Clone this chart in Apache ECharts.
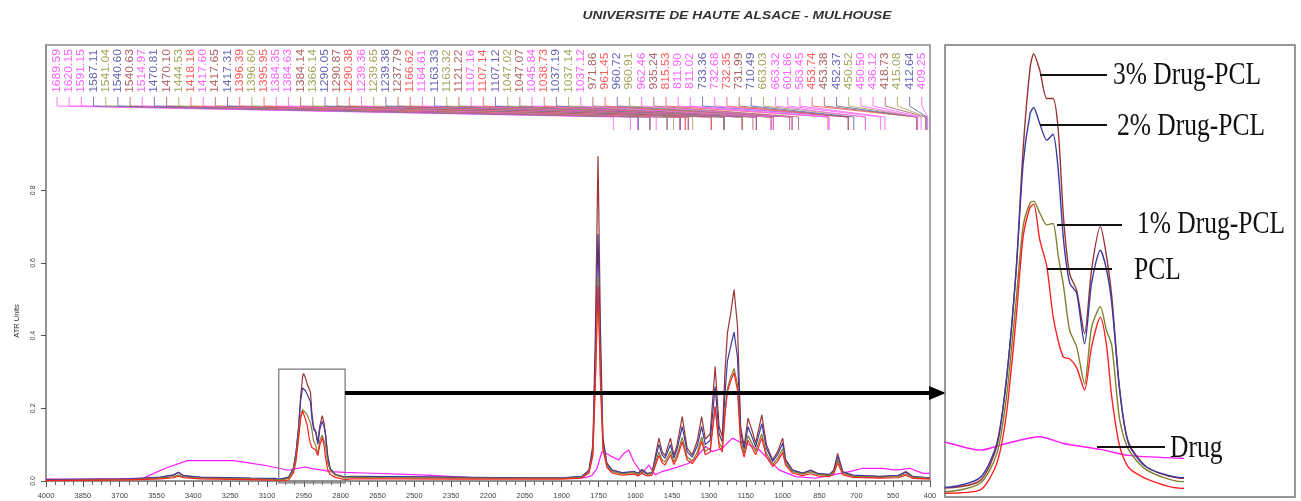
<!DOCTYPE html>
<html><head><meta charset="utf-8">
<script src="https://cdn.jsdelivr.net/npm/echarts@6/dist/echarts.min.js"></script>
<style>html,body{margin:0;padding:0;background:#fff}#c{width:1301px;height:501px}</style>
</head><body><div id="c"></div>
<script>
// ---- data ----
const titleText = 'UNIVERSITE DE HAUTE ALSACE - MULHOUSE';
const yAxisTitle = 'ATR Units';
const seriesNames = ['Drug', '3% Drug-PCL', '2% Drug-PCL', '1% Drug-PCL', 'PCL'];
const yTickValues = [0, 0.2, 0.4, 0.6, 0.8];

const wavenumbers = [4000,3657,3534,3480,3461,3440,3371,3166,3064,
3052,3012,2993,2982,2971,2963,2955,2951,2944,2936,2929,2923,2917,2910,2902,2893,2885,2875,2868,2862,2853,2843,2822,2782,
2758,2553,2349,2063,1899,1818,1789,1773,1763,1752,1742,1732,1716,1695,1654,1605,1589,1573,1552,1532,1504,1491,1479,1457,1443,1430,1409,1389,1368,1348,1330,1315,1295,1275,1259,1246,1235,1225,1212,1198,1184,1171,1157,1141,1125,1110,1085,1066,1041,1021,1000,988,960,919,886,857,810,792,776,755,714,605,530,498,469,401];

const drugPcl3 = [0.003,0.005,0.010,0.016,0.024,0.014,0.010,0.007,0.006,
0.004,0.009,0.032,0.077,0.150,0.232,0.287,0.296,0.285,0.266,0.266,0.245,0.186,0.148,0.137,0.108,0.151,0.180,0.160,0.133,0.070,0.035,0.018,0.0105,
0.012,0.011,0.010,0.008,0.008,0.012,0.030,0.100,0.400,0.894,0.420,0.120,0.050,0.030,0.022,0.026,0.020,0.032,0.020,0.022,
0.118,0.080,0.070,0.118,0.070,0.100,0.177,0.090,0.072,0.110,0.177,0.115,0.130,0.315,0.150,0.122,0.300,0.407,0.460,0.527,
0.426,0.150,0.095,0.173,0.140,0.104,0.182,0.100,0.058,0.080,0.118,0.060,0.030,0.021,0.030,0.020,0.017,0.030,0.076,0.025,
0.015,0.012,0.015,0.026,0.012,0.008];

const drugPcl2 = [0.004,0.006,0.011,0.017,0.024,0.015,0.011,0.008,0.007,
0.0045,0.011,0.034,0.077,0.150,0.222,0.256,0.260,0.249,0.238,0.242,0.218,0.171,0.142,0.135,0.101,0.142,0.164,0.151,0.128,0.070,0.034,0.018,0.011,
0.013,0.012,0.011,0.009,0.009,0.013,0.028,0.085,0.330,0.680,0.350,0.110,0.048,0.030,0.023,0.026,0.021,0.030,0.021,0.023,
0.100,0.072,0.063,0.100,0.063,0.088,0.150,0.080,0.066,0.096,0.150,0.100,0.112,0.260,0.130,0.108,0.240,0.330,0.370,0.410,
0.340,0.135,0.088,0.150,0.122,0.094,0.158,0.090,0.054,0.072,0.104,0.056,0.030,0.022,0.029,0.021,0.018,0.028,0.068,0.025,
0.016,0.013,0.015,0.024,0.012,0.009];

const drugPcl1 = [0.002,0.004,0.008,0.012,0.017,0.011,0.008,0.006,0.004,
0.0016,0.0072,0.027,0.065,0.130,0.180,0.196,0.197,0.189,0.181,0.182,0.160,0.140,0.110,0.099,0.074,0.112,0.126,0.110,0.100,0.050,0.030,0.016,0.0083,
0.010,0.009,0.008,0.007,0.007,0.010,0.024,0.075,0.280,0.560,0.290,0.095,0.042,0.026,0.020,0.023,0.018,0.026,0.018,0.020,
0.080,0.058,0.052,0.082,0.052,0.072,0.120,0.066,0.055,0.078,0.122,0.082,0.090,0.205,0.105,0.090,0.190,0.255,0.285,0.310,
0.265,0.115,0.076,0.125,0.104,0.082,0.130,0.076,0.046,0.062,0.088,0.050,0.026,0.019,0.025,0.018,0.015,0.024,0.058,0.021,
0.013,0.010,0.012,0.020,0.010,0.007];

const pcl = [0.001,0.003,0.006,0.009,0.013,0.009,0.006,0.004,0.002,
0.0005,0.0027,0.0206,0.054,0.118,0.173,0.193,0.195,0.171,0.153,0.120,0.103,0.092,0.091,0.085,0.070,0.099,0.119,0.100,0.065,0.032,0.018,0.010,0.0038,
0.006,0.006,0.005,0.005,0.005,0.008,0.022,0.070,0.260,0.535,0.270,0.088,0.038,0.022,0.016,0.019,0.014,0.021,0.014,0.016,
0.070,0.050,0.044,0.072,0.045,0.064,0.108,0.058,0.048,0.068,0.110,0.072,0.080,0.205,0.095,0.080,0.180,0.245,0.275,0.298,
0.250,0.100,0.066,0.112,0.092,0.072,0.118,0.066,0.040,0.054,0.078,0.044,0.022,0.015,0.020,0.014,0.012,0.020,0.050,0.017,
0.010,0.008,0.009,0.016,0.007,0.005];

const drugWavenumbers = [4000,3700,3604,3514,3424,3236,3174,3100,3052,3012,2982,2944,2917,2875,2843,2782,2700,2450,2250,2000,1850,1800,1777,1756,1736,1716,1695,1668,1647,1627,1606,1573,1545,1519,1491,1438,1382,1355,1314,1287,1246,1205,1177,1137,1096,1055,1014,946,866,796,728,674,592,539,483,428,401];
const drugValues = [0.005,0.006,0.008,0.035,0.056,0.056,0.050,0.042,0.035,0.0295,0.034,0.0385,0.034,0.030,0.026,0.024,0.022,0.016,0.009,0.007,0.007,0.010,0.015,0.035,0.081,0.075,0.067,0.058,0.076,0.085,0.053,0.021,0.044,0.017,0.026,0.036,0.049,0.063,0.095,0.081,0.090,0.118,0.108,0.099,0.086,0.058,0.030,0.012,0.0075,0.017,0.026,0.035,0.035,0.030,0.035,0.021,0.021];

const peakLabels = ["1689.59","1620.15","1591.15","1587.11","1541.04","1540.60","1540.63","1514.97","1470.81","1470.10",
"1444.53","1418.18","1417.60","1417.65","1417.31","1396.39","1396.60","1395.95","1384.35","1384.63",
"1384.14","1366.14","1290.05","1290.87","1290.38","1239.36","1239.65","1239.38","1237.79","1166.62",
"1164.61","1163.33","1163.32","1121.22","1107.16","1107.14","1107.12","1047.02","1047.07","1045.84",
"1038.73","1037.19","1037.14","1037.12","971.86","961.45","960.72","960.91","962.46","935.24",
"815.53","811.90","811.02","733.36","732.68","732.35","731.99","710.49","663.03","663.32",
"601.86","583.45","453.74","453.38","452.37","450.52","450.50","436.12","418.73","415.08",
"412.64","409.25"];
const peakLabelSeries = "mmmbobrmbroRmrbRoRmmrobrRmobrRmbormRbormRbomrRbomrRmmbmRrbommmRrbommrob";

const insetLabels = ['3% Drug-PCL', '2% Drug-PCL', '1% Drug-PCL', 'PCL', 'Drug'];

// ---- styles ----
const colors = { 'Drug': '#ff1aff', '3% Drug-PCL': '#9a3434', '2% Drug-PCL': '#3a3aa2', '1% Drug-PCL': '#80802e', 'PCL': '#ff2222' };
const labelColors = { m: '#ff60ff', b: '#6464b4', o: '#a4a45a', r: '#ac6262', R: '#ff5a5a' };

const chart = echarts.init(document.getElementById('c'), null, { renderer: 'canvas' });

function pairs(xs, ys) { return xs.map((x, i) => [x, ys[i]]); }
const seriesData = {
  'Drug': pairs(drugWavenumbers, drugValues),
  '3% Drug-PCL': pairs(wavenumbers, drugPcl3),
  '2% Drug-PCL': pairs(wavenumbers, drugPcl2),
  '1% Drug-PCL': pairs(wavenumbers, drugPcl1),
  'PCL': pairs(wavenumbers, pcl)
};

const series = [];
seriesNames.forEach(n => {
  series.push({ name: n, type: 'line', xAxisIndex: 0, yAxisIndex: 0, data: seriesData[n], showSymbol: false, symbol: 'none',
    lineStyle: { color: colors[n], width: 1.2 }, itemStyle: { color: colors[n] }, clip: true, silent: true });
  series.push({ name: n + ' (zoom)', type: 'line', xAxisIndex: 1, yAxisIndex: 1, data: seriesData[n], showSymbol: false, symbol: 'none',
    smooth: 0.25, lineStyle: { color: colors[n], width: 1.4 }, itemStyle: { color: colors[n] }, clip: true, silent: true });
});

const font = '"Liberation Sans", Arial, sans-serif';

chart.setOption({
  animation: false,
  backgroundColor: '#fff',
  grid: [
    { left: 46, right: 371, top: 45, bottom: 20, show: true, borderColor: '#8a8a8a', borderWidth: 1.5, backgroundColor: 'transparent' },
    { left: 945, top: 48, width: 237, height: 446, show: false }
  ],
  xAxis: [
    { type: 'value', gridIndex: 0, min: 400, max: 4000, interval: 150, inverse: true,
      axisLine: { show: true, lineStyle: { color: '#8a8a8a', width: 1.5 } },
      axisTick: { show: true, length: 6, lineStyle: { color: '#555' } },
      minorTick: { show: true, splitNumber: 4, length: 4, lineStyle: { color: '#666' } },
      splitLine: { show: false },
      axisLabel: { fontSize: 7.5, color: '#444', margin: 11, fontFamily: font, showMinLabel: true, showMaxLabel: true,
        formatter: v => String(Math.round(v)) } },
    { type: 'value', gridIndex: 1, min: 2782, max: 3052, inverse: true, show: false, splitLine: { show: false } }
  ],
  yAxis: [
    { type: 'value', gridIndex: 0, min: 0, max: 1.2, interval: 0.2,
      axisLine: { show: true, lineStyle: { color: '#8a8a8a', width: 1.5 } },
      axisTick: { show: true, length: 5, lineStyle: { color: '#555' }, customValues: yTickValues },
      splitLine: { show: false },
      axisLabel: { fontSize: 7, color: '#444', rotate: 90, margin: 9, fontFamily: font, customValues: yTickValues,
        formatter: v => v.toFixed(1) } },
    { type: 'value', gridIndex: 1, min: 0, max: 0.3, show: false, splitLine: { show: false } }
  ],
  series: series
});

function addGraphics() {
  const g = [];
  // title
  g.push({ type: 'text', x: 737, y: 16, scaleX: 1.2, silent: true,
    style: { text: titleText, font: 'italic bold 11.5px ' + font, fill: '#333', align: 'center', verticalAlign: 'middle', textAlign: 'center', textVerticalAlign: 'middle' } });
  // y axis title
  g.push({ type: 'text', x: 17, y: 321, rotation: Math.PI / 2, silent: true,
    style: { text: yAxisTitle, font: '7.5px ' + font, fill: '#333', align: 'center', verticalAlign: 'middle', textAlign: 'center', textVerticalAlign: 'middle' } });

  // peak labels with leader lines
  peakLabels.forEach((lab, i) => {
    const key = peakLabelSeries[i] || 'm';
    const col = labelColors[key];
    const xi = 57 + i * 12.18;
    const xt = chart.convertToPixel({ xAxisIndex: 0, yAxisIndex: 0 }, [parseFloat(lab), 0])[0];
    g.push({ type: 'polyline', silent: true, z: 5,
      shape: { points: [[xi, 97], [xi, 106], [xt, 117], [xt, 130]] },
      style: { stroke: col, lineWidth: 1, fill: null, opacity: 0.85 } });
    g.push({ type: 'text', x: xi, y: 71, rotation: Math.PI / 2, scaleX: 1.1, silent: true, z: 6,
      style: { text: lab, font: '11px ' + font, fill: col, align: 'center', verticalAlign: 'middle', textAlign: 'center', textVerticalAlign: 'middle' } });
  });

  // zoom box in main plot
  const p1 = chart.convertToPixel({ xAxisIndex: 0, yAxisIndex: 0 }, [3052, 0.308]);
  const p2 = chart.convertToPixel({ xAxisIndex: 0, yAxisIndex: 0 }, [2782, -0.005]);
  g.push({ type: 'rect', silent: true, z: 10,
    shape: { x: p1[0], y: p1[1], width: p2[0] - p1[0], height: p2[1] - p1[1] },
    style: { stroke: '#777', lineWidth: 1.2, fill: null } });
  // arrow
  g.push({ type: 'line', silent: true, z: 10, shape: { x1: p2[0], y1: 393, x2: 933, y2: 393 }, style: { stroke: '#000', lineWidth: 4 } });
  g.push({ type: 'polygon', silent: true, z: 10, shape: { points: [[929, 386], [946, 393], [929, 400]] }, style: { fill: '#000' } });

  // inset frame
  g.push({ type: 'rect', silent: true, z: 10, shape: { x: 945, y: 45, width: 350, height: 452 }, style: { stroke: '#777', lineWidth: 1.5, fill: null } });

  // inset labels and leaders
  const insetPos = [
    { tx: 1113, ty: 76, l: [1040, 1107, 75] },
    { tx: 1117, ty: 127, l: [1040, 1107, 125] },
    { tx: 1137, ty: 225, l: [1057, 1122, 225] },
    { tx: 1134, ty: 271, l: [1047, 1112, 269] },
    { tx: 1170, ty: 449, l: [1097, 1165, 447] }
  ];
  insetLabels.forEach((t, i) => {
    const p = insetPos[i];
    g.push({ type: 'line', silent: true, z: 12, shape: { x1: p.l[0], y1: p.l[2], x2: p.l[1], y2: p.l[2] }, style: { stroke: '#111', lineWidth: 1.8 } });
    g.push({ type: 'text', x: p.tx, y: p.ty, scaleY: 1.2, silent: true, z: 12,
      style: { text: t, font: '25.5px "Liberation Serif", "Times New Roman", serif', fill: '#111', align: 'left', verticalAlign: 'middle', textAlign: 'left', textVerticalAlign: 'middle' } });
  });

  chart.setOption({ graphic: { elements: g } });
}
addGraphics();
</script>
</body></html>
